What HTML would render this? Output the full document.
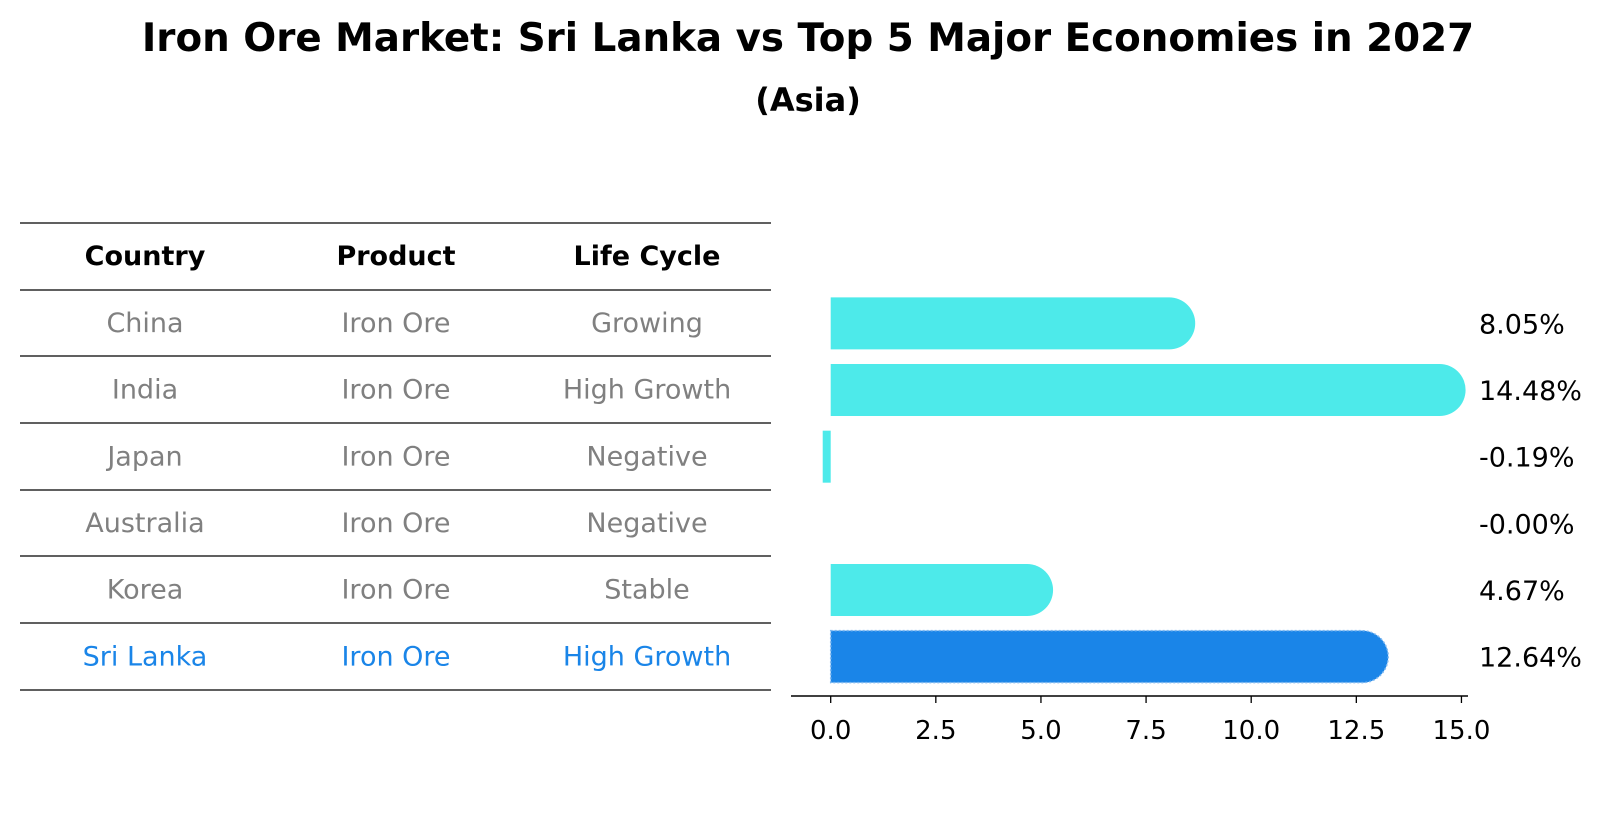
<!DOCTYPE html>
<html><head><meta charset="utf-8"><style>
body{margin:0;background:#fff;}
svg{display:block;font-family:"DejaVu Sans","Liberation Sans",sans-serif;}
</style></head><body>
<svg id="chart" width="1604" height="823" xmlns="http://www.w3.org/2000/svg">
<text x="808" y="51" text-anchor="middle" font-size="38.8" font-weight="bold">Iron Ore Market: Sri Lanka vs Top 5 Major Economies in 2027</text>
<text x="808" y="111" text-anchor="middle" font-size="32" font-weight="bold">(Asia)</text>
<g id="table"></g>
<g id="bars"></g>
</svg>
<script>
const countries=["China","India","Japan","Australia","Korea","Sri Lanka"];
const products=["Iron Ore","Iron Ore","Iron Ore","Iron Ore","Iron Ore","Iron Ore"];
const lifecycles=["Growing","High Growth","Negative","Negative","Stable","High Growth"];
const values=[8.05,14.48,-0.19,-0.00,4.67,12.64];
const valueLabels=["8.05%","14.48%","-0.19%","-0.00%","4.67%","12.64%"];
const xTicks=[0,2.5,5,7.5,10,12.5,15];
const NS="http://www.w3.org/2000/svg";
function mk(tag,attrs,parent,text){const e=document.createElementNS(NS,tag);for(const k in attrs)e.setAttribute(k,attrs[k]);if(text!==undefined)e.textContent=text;parent.appendChild(e);return e;}
const tbl=document.getElementById('table');
const lineYs=[223,290,356,423,490,556,623,690];
lineYs.forEach((y,i)=>{const l=mk('line',{x1:20,x2:771,y1:y,y2:y,stroke:'#000','stroke-width':1.3},tbl);

});
const colX=[145,396,647];
["Country","Product","Life Cycle"].forEach((h,i)=>{const t=mk('text',{x:colX[i],y:265,'text-anchor':'middle','font-size':27,'font-weight':'bold'},tbl,h);

});
countries.forEach((c,r)=>{const y=(lineYs[r+1]+lineYs[r+2])/2+9;const col=r===5?'#1a85e8':'#808080';
[c,products[r],lifecycles[r]].forEach((v,i)=>{const t=mk('text',{x:colX[i],y:y,'text-anchor':'middle','font-size':27,fill:col},tbl,v);

});});
const g=document.getElementById('bars');
const x0=830.7,sc=42.05;const X=v=>x0+v*sc;
const rowTop=290,rowH=66.67,bh=52,rad=26;
const Y=i=>rowTop+rowH*(i+0.5);
values.forEach((v,i)=>{const yc=Y(i),y=yc-bh/2;const color=i===5?'#1a85e8':'#4deaea';
let el;
if(v>0.5){const xe=X(v);
el=mk('path',{d:`M${x0},${y} H${xe} A${rad},${rad} 0 0 1 ${xe},${y+bh} H${x0} Z`,fill:color},g);
}else{const a=Math.min(X(0),X(v)),w=Math.abs(X(v)-X(0));
el=mk('rect',{x:a,y:y,width:w,height:bh,fill:color},g);}
if(i===5){el.setAttribute('stroke','#7fb8f0');el.setAttribute('stroke-dasharray','2 2');el.setAttribute('stroke-width','1.5');}


const t=mk('text',{x:1479,y:yc+10,'font-size':27},g,valueLabels[i]);

});
const ax=mk('line',{x1:791,x2:1468,y1:696,y2:696,stroke:'#000','stroke-width':1.5},g);


xTicks.forEach(v=>{const tk=mk('line',{x1:X(v),x2:X(v),y1:696,y2:703,stroke:'#000','stroke-width':1.3},g);


const t=mk('text',{x:X(v),y:739,'text-anchor':'middle','font-size':26},g,v.toFixed(1));

});
</script>
</body></html>
